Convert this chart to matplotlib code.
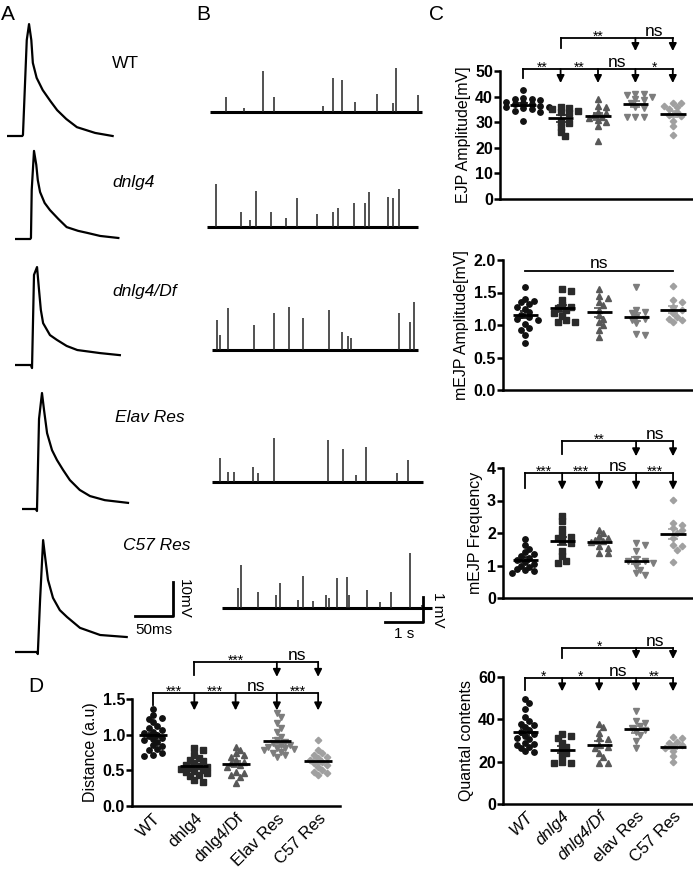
#
# Multi-panel figure: EJP traces (A), mEJP traces (B), scatter dot plots (C, D)
#
import numpy as np
import matplotlib.pyplot as plt

plt.rcParams['font.family'] = ['Liberation Sans', 'DejaVu Sans']

W, H = 693, 876

# ---------------- A: evoked EJP traces (time ms, voltage mV)
ejp_labels = ['WT', 'dnlg4', 'dnlg4/Df', 'Elav Res', 'C57 Res']
ejp_wt_t = [0, 20, 21, 26, 29, 32, 34, 39, 47, 57, 66, 78, 92, 116, 139]
ejp_wt_v = [0, 0, 0.3, 28.2, 32.9, 28.2, 21.5, 17.1, 13.5, 10.3, 7.6, 5.0, 2.6, 0.9, 0]
ejp_dnlg4_t = [0, 20, 21, 22, 25, 28, 30, 33, 39, 46, 57, 68, 83, 95, 112, 136]
ejp_dnlg4_v = [0, 0, 0.3, 14.4, 25.9, 21.8, 17.3, 13.8, 10.6, 8.5, 5.9, 3.5, 2.4, 1.8, 0.9, 0.3]
ejp_df_t = [0, 21, 22.4, 25, 29, 31.6, 34, 37, 46, 55, 68, 82, 112, 138]
ejp_df_v = [0, 0, -0.9, 26.5, 28.8, 22.1, 16.2, 12.3, 8.8, 7.4, 5.6, 4.4, 3.5, 2.9]
ejp_elav_t = [0, 18.4, 19.7, 22.4, 26.3, 29, 33, 39.5, 46, 54, 63, 76, 89.5, 109, 139.5]
ejp_elav_v = [0, 0, -0.6, 26.5, 34.1, 29.1, 22.3, 17.3, 14.4, 11.5, 8.5, 5.6, 3.8, 2.6, 1.8]
ejp_c57_t = [0, 29, 30, 33, 37, 39.5, 43.4, 50, 59, 68.4, 85.5, 112, 147]
ejp_c57_v = [0, 0, -0.6, 15.3, 32.9, 28.2, 21.2, 15.9, 12.3, 10.3, 7.1, 5.0, 4.4]

# ---------------- B: spontaneous mEJP events (time s, amplitude mV)
mejp_wt_t = [0.42, 0.89, 1.39, 1.68, 2.97, 3.24, 3.47, 3.82, 4.39, 4.82, 4.89, 5.47]
mejp_wt_a = [0.6, 0.16, 1.64, 0.6, 0.24, 1.36, 1.28, 0.4, 0.72, 0.36, 1.76, 0.68]
mejp_dnlg4_t = [0.24, 0.89, 1.13, 1.29, 1.68, 2.08, 2.37, 2.89, 3.32, 3.45, 3.87, 4.16,
                4.26, 4.76, 4.89, 5.05]
mejp_dnlg4_a = [1.72, 0.6, 0.28, 1.44, 0.6, 0.36, 1.16, 0.52, 0.6, 0.76, 0.96, 0.96,
                1.4, 1.2, 1.16, 1.52]
mejp_df_t = [0.13, 0.21, 0.42, 1.11, 1.63, 2.03, 2.39, 3.08, 3.42, 3.58, 3.66, 4.92,
             5.21, 5.32]
mejp_df_a = [1.2, 0.6, 1.68, 1.0, 1.48, 1.72, 1.28, 1.6, 0.72, 0.56, 0.48, 1.48, 1.12, 1.92]
mejp_elav_t = [0.21, 0.42, 0.58, 1.08, 1.21, 1.63, 3.05, 3.45, 3.79, 4.05, 4.87, 5.16]
mejp_elav_a = [0.96, 0.4, 0.4, 0.6, 0.36, 1.76, 1.68, 1.32, 0.28, 1.4, 0.36, 0.88]
mejp_c57_t = [0.42, 0.5, 0.95, 1.42, 1.53, 2.0, 2.13, 2.39, 2.74, 2.82, 3.03, 3.29,
              3.34, 3.82, 4.16, 4.45, 4.95, 5.26]
mejp_c57_a = [0.8, 1.72, 0.64, 0.52, 1.0, 0.32, 1.28, 0.28, 0.52, 0.4, 1.2, 1.24,
              0.52, 0.72, 0.24, 0.64, 2.2, 0.12]
mejp_len = [5.58, 5.55, 5.42, 5.55, 5.53]

# ---------------- C / D: scatter data
groups_c = ['WT', 'dnlg4', 'dnlg4/Df', 'elav Res', 'C57 Res']
groups_d = ['WT', 'dnlg4', 'dnlg4/Df', 'Elav Res', 'C57 Res']

ejp_amp = [
    [42.5, 39.5, 39, 39, 38.5, 38, 37.5, 37, 37, 36.5, 36, 36, 35.5, 35, 34.5, 34, 30.5],
    [36, 35.5, 35, 34.5, 34, 33.5, 30, 29.5, 28, 26, 24.5],
    [38.9, 36.3, 35.8, 34.1, 33.5, 32.8, 32.2, 31.5, 30.9, 30.2, 28.5, 22.5],
    [41, 41, 40.5, 40, 39, 38.5, 37.5, 36, 35.5, 32, 32, 32],
    [37.5, 37.5, 36.5, 36, 35, 34, 33, 32.5, 30.5, 28.5, 25],
]
mejp_amp = [
    [1.58, 1.40, 1.37, 1.35, 1.32, 1.28, 1.25, 1.20, 1.16, 1.12, 1.08, 1.02, 0.95, 0.93,
     0.85, 0.72, 1.10],
    [1.56, 1.53, 1.39, 1.31, 1.28, 1.26, 1.23, 1.19, 1.14, 1.08, 1.05, 1.05],
    [1.56, 1.44, 1.41, 1.36, 1.31, 1.23, 1.15, 1.10, 1.05, 1.00, 0.92, 0.82],
    [1.59, 1.23, 1.20, 1.18, 1.13, 1.10, 1.08, 1.03, 0.86, 0.85],
    [1.60, 1.38, 1.36, 1.27, 1.23, 1.18, 1.13, 1.10, 1.08, 1.05],
]
mejp_freq = [
    [1.82, 1.62, 1.52, 1.42, 1.35, 1.28, 1.22, 1.18, 1.12, 1.05, 1.0, 0.95, 0.9, 0.85,
     0.82, 0.78],
    [2.53, 2.36, 2.12, 1.95, 1.88, 1.85, 1.75, 1.69, 1.44, 1.28, 1.08, 1.13],
    [2.1, 2.0, 1.9, 1.85, 1.8, 1.74, 1.71, 1.59, 1.54, 1.38, 1.38],
    [1.69, 1.64, 1.44, 1.2, 1.15, 1.13, 1.08, 1.0, 0.87, 0.77, 0.72],
    [3.03, 2.31, 2.26, 2.15, 2.1, 2.0, 1.85, 1.64, 1.59, 1.49, 1.10],
]
quantal = [
    [49.5, 47.5, 45, 38, 41, 39, 37.5, 36.5, 35, 34, 33, 32, 30.5, 29, 28, 26.5, 25, 24.5,
     27, 28.5, 31],
    [33, 32, 31, 29, 27, 25.5, 24, 22.5, 20, 19.5, 19.5],
    [38, 36.5, 33.5, 31, 30.5, 28, 27, 26.5, 24, 22, 19.5, 19.5],
    [44, 39, 38.5, 37, 36, 35, 34, 32.5, 30, 26.5],
    [31.5, 31, 29.5, 29, 28, 27.5, 26.5, 25, 22.5, 20],
]
distance = [
    [1.36, 1.27, 1.24, 1.22, 1.18, 1.12, 1.10, 1.07, 1.04, 1.02, 1.0, 0.98, 0.96, 0.94,
     0.92, 0.9, 0.86, 0.84, 0.8, 0.78, 0.75, 0.72, 0.7],
    [0.81, 0.79, 0.72, 0.67, 0.65, 0.63, 0.6, 0.58, 0.55, 0.53, 0.51, 0.49, 0.46, 0.44,
     0.42, 0.37, 0.34, 0.56, 0.52, 0.48],
    [0.83, 0.79, 0.74, 0.72, 0.69, 0.65, 0.62, 0.6, 0.58, 0.55, 0.48, 0.46, 0.44, 0.41, 0.32],
    [1.31, 1.25, 1.16, 1.09, 1.04, 0.97, 0.93, 0.9, 0.88, 0.86, 0.83, 0.81, 0.79, 0.74,
     0.72, 0.69, 0.82, 0.8, 0.76, 0.85],
    [0.93, 0.79, 0.74, 0.72, 0.69, 0.67, 0.65, 0.62, 0.6, 0.58, 0.55, 0.51, 0.48, 0.46, 0.44],
]

markers = ['o', 's', '^', 'v', 'D']
msizes = [3.9, 3.9, 4.0, 4.0, 3.3]
colors = ['#111111', '#2a2a2a', '#585858', '#7d7d7d', '#a0a0a0']

fig = plt.figure(figsize=(W / 100, H / 100), dpi=100)


def px_axes(x0, y0, x1, y1):
    return fig.add_axes([x0 / W, 1 - y1 / H, (x1 - x0) / W, (y1 - y0) / H])


def ftext(x, y, s, **kw):
    fig.text(x / W, 1 - y / H, s, **kw)


# ---------------- panel A
ms_per_px = 1.316
mv_per_px = 0.294
ejp_t = [ejp_wt_t, ejp_dnlg4_t, ejp_df_t, ejp_elav_t, ejp_c57_t]
ejp_v = [ejp_wt_v, ejp_dnlg4_v, ejp_df_v, ejp_elav_v, ejp_c57_v]
ejp_pos = [(7, 136), (15, 239), (15, 365), (22, 509), (15, 652)]
for t, v, (x0, base) in zip(ejp_t, ejp_v, ejp_pos):
    ax = px_axes(x0, base - 40 / mv_per_px, x0 + 150 / ms_per_px, base + 3 / mv_per_px)
    ax.plot(t, v, color='k', lw=1.6)
    ax.set_xlim(0, 150)
    ax.set_ylim(-3, 40)
    ax.axis('off')
# scale bar 50 ms / 10 mV on the last trace
ax.plot([158, 208, 208], [10.6, 10.6, 20.6], color='k', lw=2, clip_on=False)
ax.text(183, 8.5, '50ms', ha='center', va='top', fontsize=11)
ax.text(213, 15.6, '10mV', ha='left', va='center', rotation=270, fontsize=11)

ejp_text_pos = [(112, 63), (112, 183), (112, 292), (115, 417), (123, 546)]
for lab, (x, y) in zip(ejp_labels, ejp_text_pos):
    ftext(x, y, lab, fontsize=12.5, va='center', ha='left',
          style='normal' if lab == 'WT' else 'italic')

# ---------------- panel B
s_px = 38.0
mv_px = 25.0
mejp_t = [mejp_wt_t, mejp_dnlg4_t, mejp_df_t, mejp_elav_t, mejp_c57_t]
mejp_a = [mejp_wt_a, mejp_dnlg4_a, mejp_df_a, mejp_elav_a, mejp_c57_a]
mejp_pos = [(210, 112), (207, 227), (212, 350), (212, 482), (222, 608)]
for t, a, L, (x0, base) in zip(mejp_t, mejp_a, mejp_len, mejp_pos):
    ax = px_axes(x0, base - 2.4 * mv_px, x0 + 5.7 * s_px, base + 0.4 * mv_px)
    ax.hlines(0, 0, L, color='k', lw=2.2)
    ax.vlines(t, 0, a, color='#222222', lw=1.1)
    ax.set_xlim(0, 5.7)
    ax.set_ylim(-0.4, 2.4)
    ax.axis('off')
ax.plot([4.29, 5.29, 5.29], [-0.56, -0.56, 0.44], color='k', lw=2, clip_on=False)
ax.text(4.79, -0.75, '1 s', ha='center', va='top', fontsize=11)
ax.text(5.5, -0.06, '1 mV', ha='left', va='center', rotation=270, fontsize=11)

# panel letters
ftext(8, 14, 'A', fontsize=15, ha='center', va='center')
ftext(203, 14, 'B', fontsize=15, ha='center', va='center')
ftext(437, 14, 'C', fontsize=15, ha='center', va='center')
ftext(36, 686, 'D', fontsize=15, ha='center', va='center')


# ---------------- scatter helpers
def swarm(vals, ppu_y, ppu_x, d=5.0):
    order = np.argsort(vals)[::-1]
    placed = []
    offs = np.zeros(len(vals))
    for i in order:
        y = vals[i] * ppu_y
        k = 0
        while True:
            cands = [0.0] if k == 0 else [k * d * 0.85, -k * d * 0.85]
            done = False
            for c in cands:
                if all((c - px) ** 2 + (y - py) ** 2 >= d * d for px, py in placed):
                    offs[i] = c
                    placed.append((c, y))
                    done = True
                    break
            if done:
                break
            k += 1
    return offs / ppu_x


def dot_panel(ax, data, ppu_y, ppu_x, ylim, yticks, yticklabels, ylabel):
    for i, vals in enumerate(data):
        vals = np.array(vals, dtype=float)
        off = swarm(vals, ppu_y, ppu_x)
        ax.plot(i + off, vals, ls='none', marker=markers[i], ms=msizes[i],
                color=colors[i], mec=colors[i], clip_on=False, zorder=3)
        mean = vals.mean()
        sem = vals.std(ddof=1) / np.sqrt(len(vals))
        ax.errorbar(i, mean, yerr=sem, color=colors[i], capsize=3.5, lw=1.2,
                    capthick=1.2, zorder=4)
        ax.hlines(mean, i - 0.34, i + 0.34, color='k', lw=2, zorder=5)
    ax.set_ylim(*ylim)
    ax.set_yticks(yticks)
    ax.set_yticklabels(yticklabels, fontweight='bold', fontsize=11.5)
    ax.set_ylabel(ylabel, fontsize=11.5, labelpad=3)
    for s in ['top', 'right']:
        ax.spines[s].set_visible(False)
    for s in ['left', 'bottom']:
        ax.spines[s].set_linewidth(1.8)
    ax.tick_params(axis='y', direction='out', length=4, width=1.8, pad=1)
    ax.tick_params(axis='x', length=0)


def brackets(ax, y, drop, tip, start, targets, labels, label_x):
    kw = dict(color='k', lw=1.3, clip_on=False)
    ax.plot([start, targets[-1]], [y, y], **kw)
    ax.plot([start, start], [y, drop], **kw)
    for t in targets:
        ax.annotate('', xy=(t, tip), xytext=(t, y),
                    arrowprops=dict(arrowstyle='-|>', color='k', lw=1.3,
                                    mutation_scale=11, shrinkA=0, shrinkB=0),
                    annotation_clip=False)
    for lx, lab in zip(label_x, labels):
        if lab == 'ns':
            ax.annotate(lab, (lx, y), xytext=(0, 1.5), textcoords='offset points',
                        ha='center', va='baseline', fontsize=12.5, annotation_clip=False)
        else:
            ax.annotate(lab, (lx, y), xytext=(0, -2), textcoords='offset points',
                        ha='center', va='baseline', fontsize=10, annotation_clip=False)


lower_x = [0.5, 1.5, 2.5, 3.5]
upper_x = [2, 3.5]

# C1: EJP amplitude
ax = px_axes(500, 71, 693, 199)
dot_panel(ax, ejp_amp, 2.56, 37.4, (0, 50), [0, 10, 20, 30, 40, 50],
          ['0', '10', '20', '30', '40', '50'], 'EJP Amplitude[mV]')
ax.set_xlim(-0.62, 4.54)
ax.set_xticks([])
brackets(ax, 50.8, 47.3, 45.3, 0, [1, 2, 3, 4], ['**', '**', 'ns', '*'], lower_x)
brackets(ax, 62.9, 59.0, 57.8, 1, [3, 4], ['**', 'ns'], upper_x)

# C2: mEJP amplitude
ax = px_axes(503, 260, 693, 390)
dot_panel(ax, mejp_amp, 65, 37, (0, 2), [0, 0.5, 1, 1.5, 2],
          ['0.0', '0.5', '1.0', '1.5', '2.0'], 'mEJP Amplitude[mV]')
ax.set_xlim(-0.6, 4.54)
ax.set_xticks([])
ax.plot([0, 4], [1.83, 1.83], color='k', lw=1.3, clip_on=False)
ax.annotate('ns', (2, 1.83), xytext=(0, 2.5), textcoords='offset points',
            ha='center', va='baseline', fontsize=12.5, annotation_clip=False)

# C3: mEJP frequency
ax = px_axes(503, 468, 693, 598)
dot_panel(ax, mejp_freq, 32.5, 37, (0, 4), [0, 1, 2, 3, 4],
          ['0', '1', '2', '3', '4'], 'mEJP Frequency')
ax.set_xlim(-0.6, 4.54)
ax.set_xticks([])
brackets(ax, 3.85, 3.38, 3.33, 0, [1, 2, 3, 4], ['***', '***', 'ns', '***'], lower_x)
brackets(ax, 4.82, 4.44, 4.36, 1, [3, 4], ['**', 'ns'], upper_x)

# C4: quantal contents
ax = px_axes(503, 677, 693, 804)
dot_panel(ax, quantal, 2.117, 37, (0, 60), [0, 20, 40, 60],
          ['0', '20', '40', '60'], 'Quantal contents')
ax.set_xlim(-0.6, 4.54)
ax.set_xticks(range(5))
ax.set_xticklabels(groups_c, rotation=45, ha='right', rotation_mode='anchor',
                   fontsize=12)
for lab in ax.get_xticklabels()[:3]:
    lab.set_style('italic')
brackets(ax, 59.5, 54.0, 53.2, 0, [1, 2, 3, 4], ['*', '*', 'ns', '**'], lower_x)
brackets(ax, 73.7, 69.0, 68.5, 1, [3, 4], ['*', 'ns'], upper_x)

# D: distance
ax = px_axes(132, 699, 340, 806)
dot_panel(ax, distance, 71.3, 41, (0, 1.5), [0, 0.5, 1, 1.5],
          ['0.0', '0.5', '1.0', '1.5'], 'Distance (a.u)')
ax.set_xlim(-0.51, 4.53)
ax.set_xticks(range(5))
ax.set_xticklabels(groups_d, rotation=45, ha='right', rotation_mode='anchor',
                   fontsize=12)
brackets(ax, 1.58, 1.42, 1.34, 0, [1, 2, 3, 4], ['***', '***', 'ns', '***'], lower_x)
brackets(ax, 2.02, 1.84, 1.81, 1, [3, 4], ['***', 'ns'], upper_x)

plt.savefig('out.png', dpi=100)
